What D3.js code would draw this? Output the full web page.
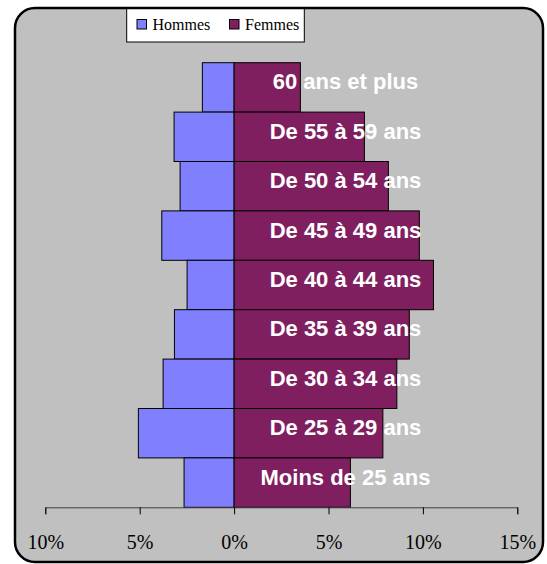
<!DOCTYPE html>
<html>
<head>
<meta charset="utf-8">
<script src="https://cdn.jsdelivr.net/npm/d3@7"></script>
<style>
  body { margin: 0; background: #fff; }
  svg { display: block; }
</style>
</head>
<body>
<div id="chart"></div>
<script>
  //Age groups, top to bottom
  let ageGroups = ["60 ans et plus", "De 55 à 59 ans", "De 50 à 54 ans", "De 45 à 49 ans",
    "De 40 à 44 ans", "De 35 à 39 ans", "De 30 à 34 ans", "De 25 à 29 ans", "Moins de 25 ans"];
  //Share of population (%)
  let hommes = [1.68, 3.18, 2.86, 3.83, 2.49, 3.16, 3.76, 5.07, 2.65];
  let femmes = [3.51, 6.90, 8.17, 9.81, 10.56, 9.28, 8.62, 7.88, 6.16];
  let tickValues = [-10, -5, 0, 5, 10, 15];
  let legendNames = ["Hommes", "Femmes"];
  let colors = ["#8080ff", "#801f5f"];

  let width = 547, height = 564;

  let svg = d3.select("#chart").append("svg")
    .attr("width", width)
    .attr("height", height);

  //Chart area background
  svg.append("rect")
    .attr("x", 15).attr("y", 8)
    .attr("width", 528).attr("height", 554)
    .attr("rx", 20)
    .attr("fill", "#c0c0c0");

  //Scales
  let x = d3.scaleLinear().domain([-10, 15]).range([45.3, 517.3]);
  let y = d3.scaleBand().domain(ageGroups).range([62.7, 507.3]).padding(0);

  //Hommes bars go to the left of 0
  svg.append("g").selectAll("rect")
    .data(hommes)
    .enter()
    .append("rect")
      .attr("x", function(d) { return x(-d); })
      .attr("y", function(d, i) { return y(ageGroups[i]); })
      .attr("width", function(d) { return x(0) - x(-d); })
      .attr("height", y.bandwidth())
      .attr("fill", colors[0])
      .attr("stroke", "#000")
      .attr("stroke-width", 1);

  //Femmes bars to the right
  svg.append("g").selectAll("rect")
    .data(femmes)
    .enter()
    .append("rect")
      .attr("x", x(0))
      .attr("y", function(d, i) { return y(ageGroups[i]); })
      .attr("width", function(d) { return x(d) - x(0); })
      .attr("height", y.bandwidth())
      .attr("fill", colors[1])
      .attr("stroke", "#000")
      .attr("stroke-width", 1);

  //Category labels over the bars
  svg.append("g").selectAll("text")
    .data(ageGroups)
    .enter()
    .append("text")
      .text(function(d) { return d; })
      .attr("x", x(5.9))
      .attr("y", function(d) { return y(d) + y.bandwidth() / 2 + 2; })
      .attr("text-anchor", "middle")
      .attr("font-family", "'Liberation Sans', Arial, sans-serif")
      .attr("font-weight", "bold")
      .attr("font-size", "22px")
      .attr("fill", "#fff");

  //Bottom axis
  let axis = d3.axisBottom(x)
    .tickValues(tickValues)
    .tickSize(7)
    .tickSizeOuter(7)
    .tickPadding(20.5)
    .tickFormat(function(d) { return Math.abs(d) + "%"; });

  let gx = svg.append("g")
    .attr("transform", "translate(0," + 507.3 + ")")
    .call(axis);
  gx.select(".domain").attr("stroke", "#404040");
  gx.selectAll(".tick line").attr("stroke", "#000");
  gx.selectAll(".tick text")
    .attr("font-family", "'Liberation Serif', 'Times New Roman', serif")
    .attr("font-size", "20px")
    .attr("fill", "#000");

  //Legend
  let legend = svg.append("g");
  legend.append("rect")
    .attr("x", 126.7).attr("y", 8)
    .attr("width", 177.6).attr("height", 34)
    .attr("fill", "#fff")
    .attr("stroke", "#000")
    .attr("stroke-width", 1);

  let legendX = [137, 229.5];
  legendNames.forEach(function(name, i) {
    legend.append("rect")
      .attr("x", legendX[i]).attr("y", 19.5)
      .attr("width", 9.5).attr("height", 9.5)
      .attr("fill", colors[i])
      .attr("stroke", "#000");
    legend.append("text")
      .text(name)
      .attr("x", legendX[i] + 15.5)
      .attr("y", 30)
      .attr("font-family", "'Liberation Serif', 'Times New Roman', serif")
      .attr("font-size", "16px")
      .attr("fill", "#000");
  });

  //Outer border drawn last so it sits above the legend
  svg.append("rect")
    .attr("x", 15).attr("y", 8)
    .attr("width", 528).attr("height", 554)
    .attr("rx", 20)
    .attr("fill", "none")
    .attr("stroke", "#000")
    .attr("stroke-width", 2.5);
</script>
</body>
</html>
